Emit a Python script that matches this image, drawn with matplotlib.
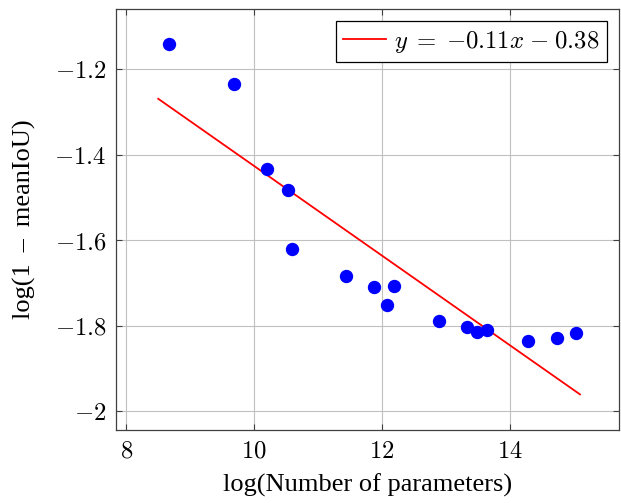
import matplotlib
matplotlib.use("Agg")
import matplotlib.pyplot as plt
import numpy as np

plt.rcParams['mathtext.fontset'] = 'cm'
plt.rcParams['font.family'] = ['DejaVu Serif']

log_params = [8.67, 9.69, 10.20, 10.53, 10.59, 11.43, 11.87, 12.07, 12.18,
              12.88, 13.32, 13.48, 13.63, 14.28, 14.73, 15.03]
log_err = [-1.141, -1.235, -1.433, -1.483, -1.621, -1.683, -1.709, -1.751, -1.707,
           -1.789, -1.804, -1.815, -1.809, -1.836, -1.829, -1.818]
fit_slope = -0.1048
fit_intercept = -0.379
fit_range = [8.5, 15.09]
legend_label = r'$y\;{=}\;{-}0.11x\;{-}\;0.38$'
xticks = [8, 10, 12, 14]
yticks = [-2.0, -1.8, -1.6, -1.4, -1.2]

FS = 17.8

fig = plt.figure(figsize=(6.21, 5.03), dpi=100)
ax = fig.add_axes([0.1868, 0.1451, 0.81, 0.8370])

ax.plot(log_params, log_err, 'o', color=(0, 0, 1), markersize=8.6, zorder=3)
xf = np.array(fit_range)
ax.plot(xf, fit_slope * xf + fit_intercept, color=(1, 0, 0), lw=1.3,
        label=legend_label, zorder=2)

ax.set_xlim(7.84, 15.70)
ax.set_ylim(-2.0437, -1.06)
ax.set_xticks(xticks)
ax.set_yticks(yticks)
ax.set_xticklabels([rf'${t}$' for t in xticks])
ax.set_yticklabels([r'$-2$' if t == -2.0 else rf'$-{abs(t):.1f}$' for t in yticks])
ax.tick_params(direction='in', top=True, right=True, labelsize=FS, length=4,
               width=0.8, color='#404040', pad=7)
ax.grid(True, color='#c0c0c0', lw=0.8)
ax.set_axisbelow(True)
for s in ax.spines.values():
    s.set_color('#404040')
    s.set_linewidth(0.9)

ax.set_xlabel('log(Number of parameters)', fontsize=19,
              family='Liberation Serif', labelpad=8)
ax.set_ylabel('log(1 \u2009\u2013\u2009 meanIoU)', fontsize=19,
              family='Liberation Serif', labelpad=13)

leg = ax.legend(loc='upper right', fontsize=FS, frameon=True, fancybox=False,
                edgecolor='black', framealpha=1, handlelength=1.74,
                handletextpad=0.3, borderpad=0.3, borderaxespad=0.5)
leg.get_frame().set_linewidth(0.9)

fig.savefig('out.png', dpi=100)
